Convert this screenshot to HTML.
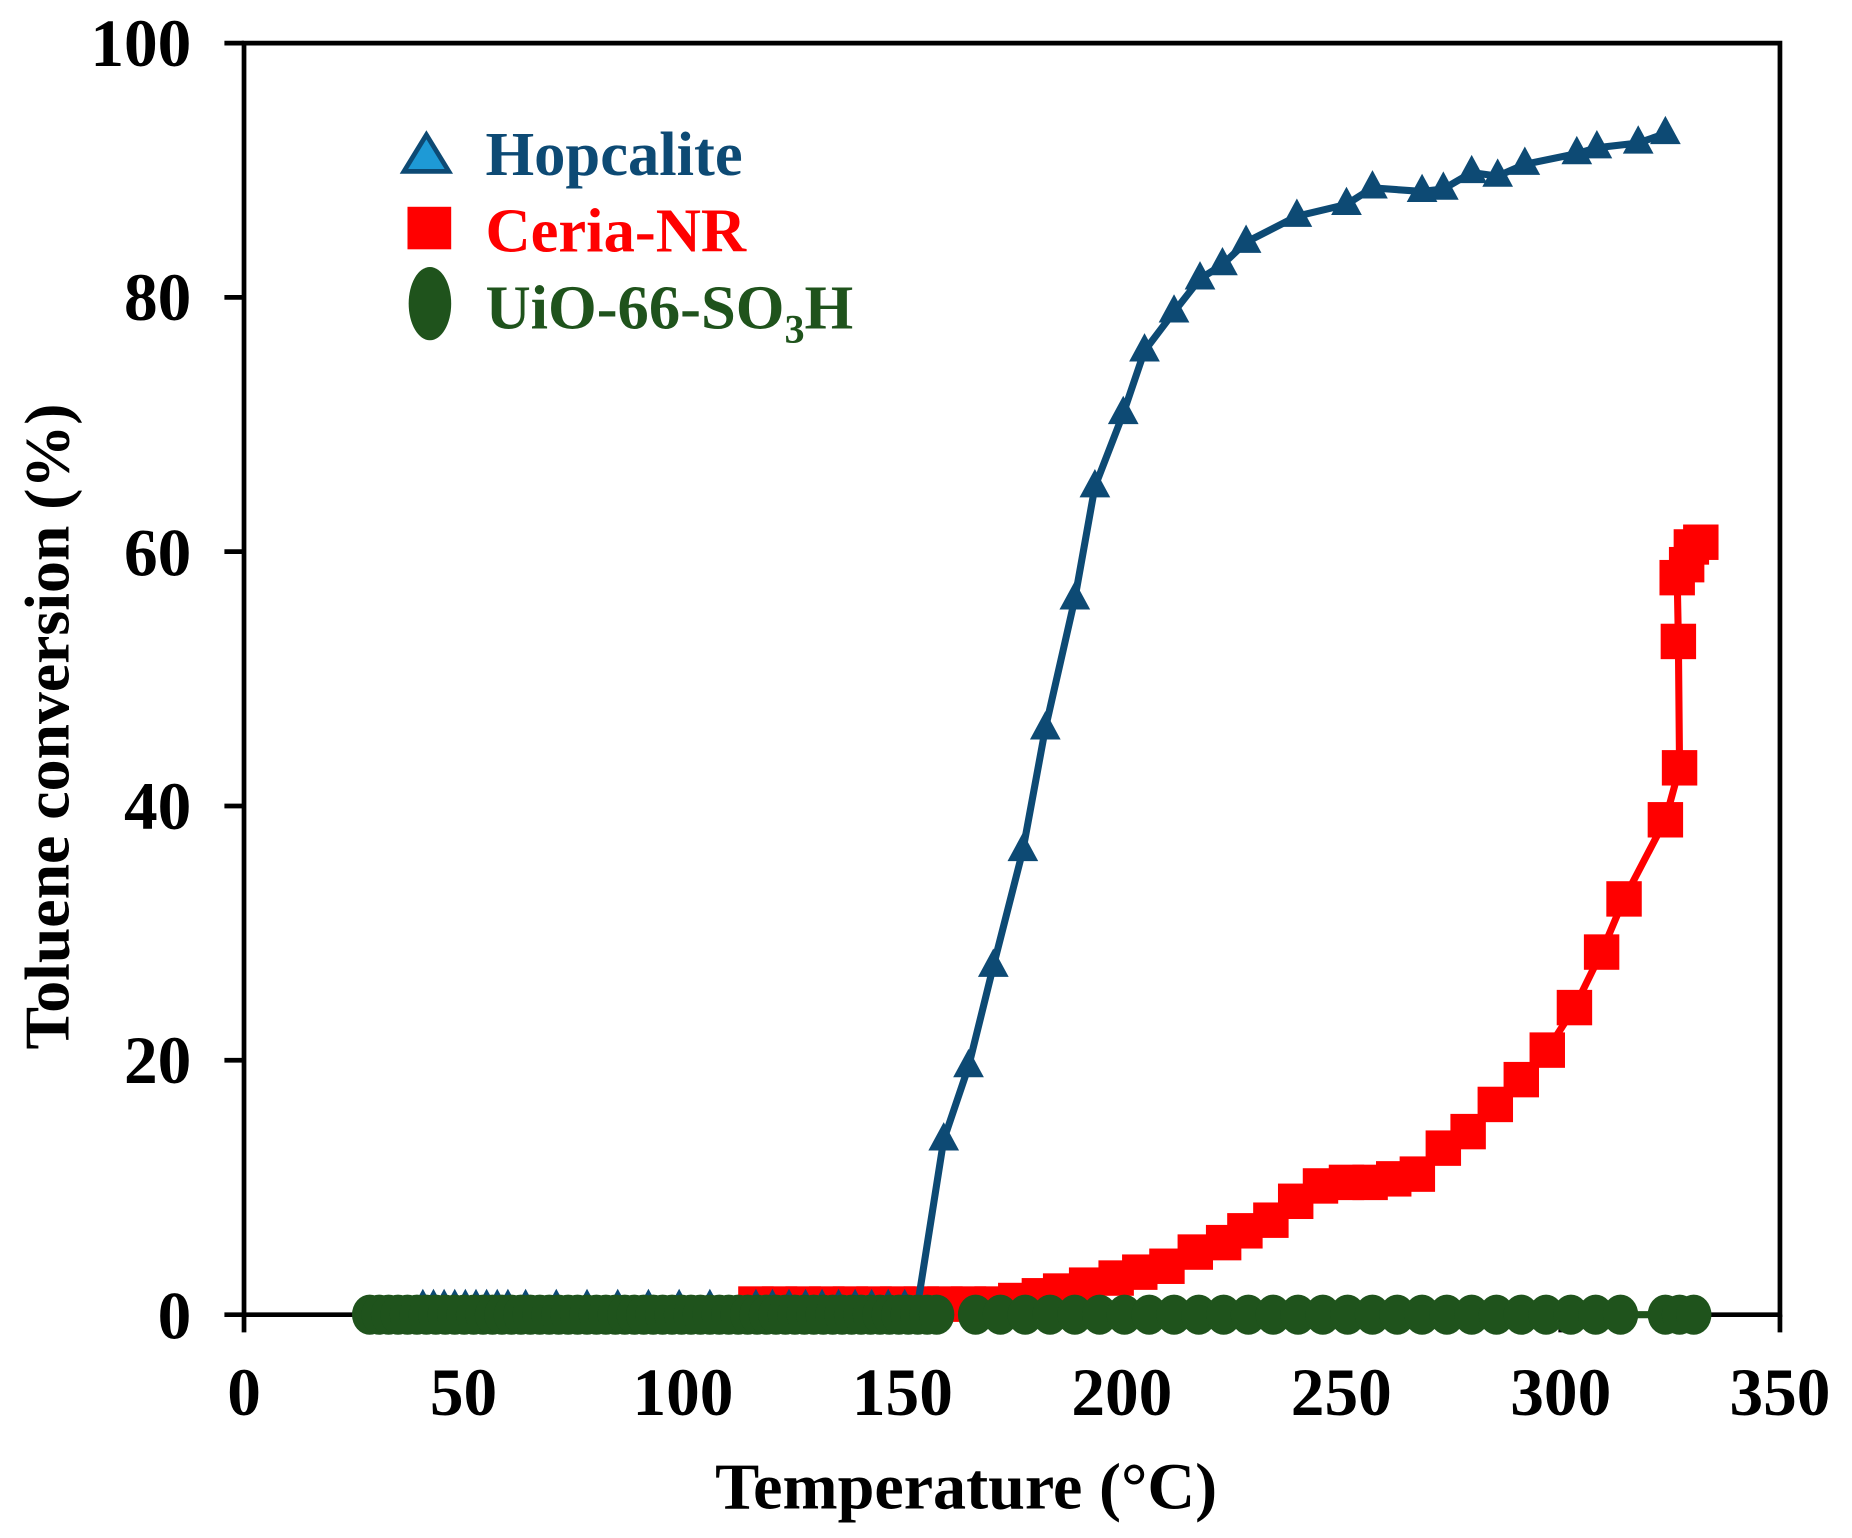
<!DOCTYPE html>
<html><head><style>html,body{margin:0;padding:0;background:#fff}svg{display:block}</style></head><body>
<svg width="1852" height="1538" viewBox="0 0 1568 1302" xmlns="http://www.w3.org/2000/svg" font-family="Liberation Serif, serif" font-weight="bold">
<defs>
<path id="tri" d="M0,-15 L13,9 L-13,9 Z" fill="#0d4a74"/>
<rect id="sq" x="-15" y="-15" width="30" height="30" fill="#ff0000"/>
<ellipse id="ci" rx="15" ry="17" fill="#1f531c"/>
</defs>
<g stroke="#000" stroke-width="4" fill="none">
<path d="M206.6,36.4 H1507 V1113 H206.6 Z"/>
<path d="M190,36.4H206.6M190,251.7H206.6M190,467H206.6M190,682.3H206.6M190,897.6H206.6M190,1113H206.6"/>
<path d="M206.6,1113V1128M392.4,1113V1128M578.2,1113V1128M764,1113V1128M949.8,1113V1128M1135.6,1113V1128M1321.4,1113V1128M1507,1113V1128"/>
</g>
<g font-size="57" text-anchor="end" fill="#000">
<text x="162" y="56">100</text><text x="162" y="271">80</text><text x="162" y="487">60</text>
<text x="162" y="702">40</text><text x="162" y="917">20</text><text x="162" y="1133">0</text>
</g>
<g font-size="57" text-anchor="middle" fill="#000">
<text x="206.6" y="1198">0</text><text x="392.4" y="1198">50</text><text x="578.2" y="1198">100</text>
<text x="764" y="1198">150</text><text x="949.8" y="1198">200</text><text x="1135.6" y="1198">250</text>
<text x="1321.4" y="1198">300</text><text x="1507" y="1198">350</text>
</g>
<text x="818" y="1277" font-size="56" text-anchor="middle">Temperature (°C)</text>
<text transform="translate(58,615) rotate(-90)" font-size="54" text-anchor="middle">Toluene conversion (%)</text>
<path d="M311,1113H1436" stroke="#1f531c" stroke-width="6"/>
<polyline fill="none" stroke="#ff0000" stroke-width="6" points="625,1106 820,1106 840,1104 860,1101 880,1097 898,1093 920,1088 945,1082 965,1077 988,1072 1012,1060 1036,1052 1054,1042 1076,1033 1097,1017 1118,1004 1140,1001 1160,1001 1180,998 1200,994 1222,972 1243,958 1266,935 1288,914 1310,889 1333,853 1356,806 1375,761 1410,694 1422,650 1421,543 1420,489 1428,478 1432,463 1440,459"/>
<g id="sqs"></g>
<polyline fill="none" stroke="#0d4a74" stroke-width="6" points="358,1108 775,1108 778,1098 799,965 820,903 841,818 866,720 885,617 910,507 927,412 951,350 969,297 994,264 1016,236 1035,224 1055,205 1098,183 1140,173 1162,159 1204,162 1222,160 1246,146 1268,149 1291,139 1335,130 1352,125 1387,121 1410,113"/>
<g id="tris"></g>
<g id="circs"></g>
<path d="M361,114 L380,145 L342,145 Z" fill="#1e9ad6" stroke="#0d4a74" stroke-width="4"/>
<text x="411" y="148" font-size="53" fill="#0d4a74">Hopcalite</text>
<rect x="345" y="175" width="37" height="36" fill="#ff0000"/>
<text x="411" y="213" font-size="53" fill="#ff0000">Ceria-NR</text>
<ellipse cx="364" cy="257" rx="18" ry="31" fill="#1f531c"/>
<text x="411" y="278" font-size="53" fill="#1f531c">UiO-66-SO<tspan font-size="34" dy="12">3</tspan><tspan dy="-12">H</tspan></text>
<script>
var NS="http://www.w3.org/2000/svg";
function put(g,id,pts){var el=document.getElementById(g);pts.forEach(function(p){var u=document.createElementNS(NS,"use");u.setAttribute("href","#"+id);u.setAttribute("x",p[0]);u.setAttribute("y",p[1]);el.appendChild(u);});}
var tp=[];for(var x=358;x<=430;x+=9)tp.push([x,1106]);for(x=445;x<=620;x+=26)tp.push([x,1106]);for(x=640;x<=775;x+=14)tp.push([x,1106]);
[[799,965],[820,903],[841,818],[866,720],[885,617],[910,507],[927,412],[951,350],[969,297],[994,264],[1016,236],[1035,224],[1055,205],[1098,183],[1140,173],[1162,159],[1204,162],[1222,160],[1246,146],[1268,149],[1291,139],[1335,130],[1352,125],[1387,121],[1410,113]].forEach(function(p){tp.push(p)});
var sp=[];for(x=640;x<=820;x+=20)sp.push([x,1104]);
[[840,1104],[860,1101],[880,1097],[898,1093],[920,1088],[945,1082],[965,1077],[988,1072],[1012,1060],[1036,1052],[1054,1042],[1076,1033],[1097,1017],[1118,1004],[1140,1001],[1160,1001],[1180,998],[1200,994],[1222,972],[1243,958],[1266,935],[1288,914],[1310,889],[1333,853],[1356,806],[1375,761],[1410,694],[1422,650],[1421,543],[1420,489],[1428,478],[1432,463],[1440,459]].forEach(function(p){sp.push(p)});
var cp=[];for(x=313;x<=800;x+=8)cp.push([x,1113]);for(x=826;x<=1380;x+=21)cp.push([x,1113]);cp.push([1410,1113],[1422,1113],[1434,1113]);
put("sqs","sq",sp);put("tris","tri",tp);put("circs","ci",cp);
</script>
</svg>
</body></html>
